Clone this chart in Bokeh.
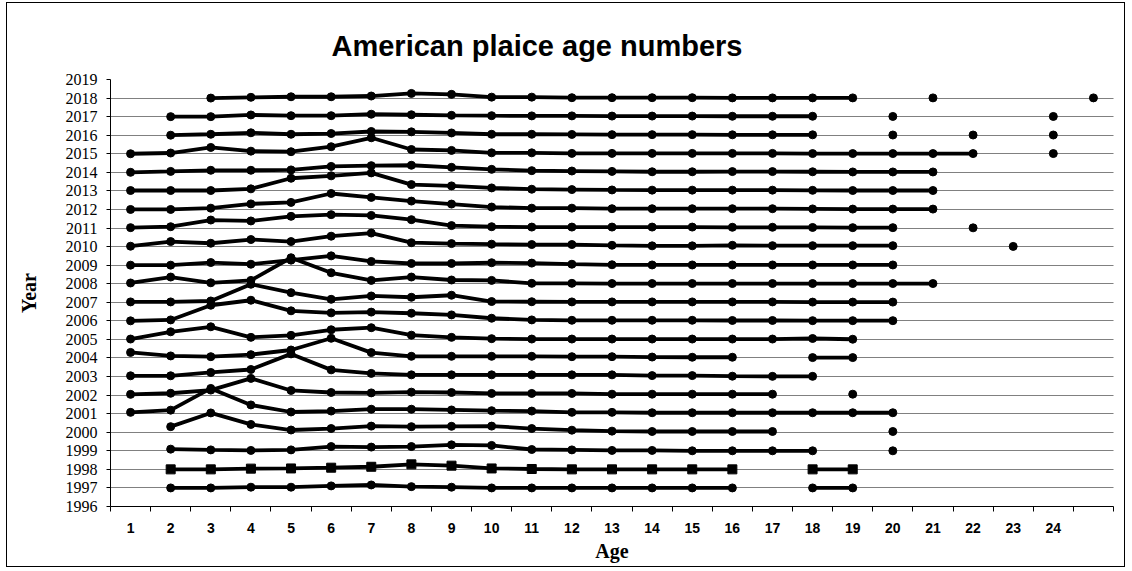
import math
from bokeh.plotting import figure
from bokeh.models import FixedTicker
from bokeh.embed import file_html
from bokeh.resources import INLINE

# ---------------- data ----------------
ages = list(range(1, 26))                      # age classes (x categories)
age_labels = [str(a) for a in range(1, 25)]    # printed x tick labels (25 has none)
years = list(range(1997, 2019))
year_ticks = list(range(1996, 2020))

n = None
# scaled age numbers per survey year (drawn as year + value), one entry per age 1..25
off_2018 = [n, n, 0.00, 0.04, 0.07, 0.07, 0.11, 0.25, 0.20, 0.05, 0.05, 0.02, 0.02, 0.02, 0.02, 0.01, 0.01, 0.01, 0.01, n, 0.01, n, n, n, 0.01]
off_2017 = [n, 0.00, 0.00, 0.09, 0.05, 0.05, 0.13, 0.10, 0.07, 0.05, 0.04, 0.04, 0.03, 0.03, 0.03, 0.02, 0.02, 0.02, n, 0.01, n, n, n, 0.01, n]
off_2016 = [n, 0.00, 0.05, 0.13, 0.05, 0.09, 0.20, 0.18, 0.12, 0.05, 0.05, 0.04, 0.03, 0.03, 0.03, 0.02, 0.02, 0.02, n, 0.01, n, 0.01, n, 0.01, n]
off_2015 = [0.00, 0.04, 0.34, 0.14, 0.11, 0.38, 0.86, 0.23, 0.18, 0.05, 0.05, 0.02, 0.02, 0.02, 0.02, 0.02, 0.02, 0.01, 0.01, 0.01, 0.01, 0.01, n, 0.01, n]
off_2014 = [0.00, 0.05, 0.11, 0.11, 0.13, 0.32, 0.36, 0.38, 0.27, 0.16, 0.09, 0.07, 0.05, 0.03, 0.03, 0.04, 0.04, 0.03, 0.02, 0.02, 0.02, n, n, n, n]
off_2013 = [0.02, 0.02, 0.02, 0.11, 0.68, 0.81, 0.97, 0.34, 0.27, 0.16, 0.09, 0.07, 0.05, 0.04, 0.04, 0.04, 0.04, 0.03, 0.02, 0.02, 0.02, n, n, n, n]
off_2012 = [0.00, 0.00, 0.07, 0.30, 0.38, 0.86, 0.65, 0.45, 0.29, 0.13, 0.07, 0.07, 0.04, 0.04, 0.04, 0.04, 0.04, 0.03, 0.02, 0.02, 0.02, n, n, n, n]
off_2011 = [0.02, 0.07, 0.43, 0.38, 0.63, 0.72, 0.68, 0.45, 0.13, 0.07, 0.05, 0.05, 0.05, 0.05, 0.05, 0.04, 0.04, 0.03, 0.02, 0.02, n, 0.01, n, n, n]
off_2010 = [0.02, 0.27, 0.18, 0.38, 0.27, 0.56, 0.73, 0.21, 0.16, 0.13, 0.11, 0.11, 0.07, 0.04, 0.04, 0.07, 0.05, 0.05, 0.05, 0.05, n, n, 0.01, n, n]
off_2009 = [0.00, 0.00, 0.14, 0.05, 0.27, 0.50, 0.20, 0.09, 0.09, 0.13, 0.11, 0.05, 0.02, 0.01, 0.01, 0.01, 0.01, 0.01, 0.01, 0.01, n, n, n, n, n]
off_2008 = [0.04, 0.36, 0.05, 0.18, 1.40, 0.59, 0.18, 0.36, 0.20, 0.18, 0.02, 0.02, 0.01, 0.01, 0.01, 0.01, 0.01, 0.01, 0.01, 0.01, 0.01, n, n, n, n]
off_2007 = [0.02, 0.02, 0.07, 0.97, 0.52, 0.16, 0.34, 0.27, 0.38, 0.04, 0.03, 0.02, 0.02, 0.02, 0.02, 0.02, 0.02, 0.01, 0.01, 0.01, n, n, n, n, n]
off_2006 = [0.00, 0.05, 0.84, 1.11, 0.54, 0.43, 0.47, 0.41, 0.32, 0.14, 0.05, 0.03, 0.03, 0.03, 0.03, 0.02, 0.02, 0.01, 0.01, 0.01, n, n, n, n, n]
off_2005 = [0.02, 0.41, 0.68, 0.11, 0.22, 0.52, 0.63, 0.23, 0.11, 0.04, 0.02, 0.02, 0.02, 0.02, 0.02, 0.02, 0.02, 0.05, 0.01, n, n, n, n, n, n]
off_2004 = [0.30, 0.11, 0.07, 0.18, 0.43, 1.06, 0.29, 0.09, 0.09, 0.09, 0.09, 0.07, 0.07, 0.05, 0.04, 0.04, n, 0.02, 0.02, n, n, n, n, n, n]
off_2003 = [0.04, 0.04, 0.22, 0.38, 1.22, 0.36, 0.17, 0.09, 0.09, 0.09, 0.09, 0.09, 0.09, 0.05, 0.05, 0.02, 0.01, 0.01, n, n, n, n, n, n, n]
off_2002 = [0.04, 0.10, 0.27, 0.90, 0.25, 0.14, 0.12, 0.16, 0.14, 0.09, 0.09, 0.09, 0.05, 0.05, 0.05, 0.05, 0.05, n, 0.05, n, n, n, n, n, n]
off_2001 = [0.07, 0.19, 1.36, 0.47, 0.09, 0.14, 0.24, 0.24, 0.20, 0.16, 0.14, 0.07, 0.07, 0.05, 0.05, 0.05, 0.05, 0.05, 0.05, 0.05, n, n, n, n, n]
off_2000 = [n, 0.30, 1.04, 0.42, 0.12, 0.20, 0.33, 0.30, 0.32, 0.33, 0.20, 0.11, 0.06, 0.04, 0.04, 0.04, 0.04, n, n, 0.04, n, n, n, n, n]
off_1999 = [n, 0.09, 0.05, 0.02, 0.05, 0.23, 0.20, 0.23, 0.32, 0.29, 0.07, 0.05, 0.02, 0.02, 0.00, 0.00, 0.00, 0.00, n, 0.00, n, n, n, n, n]
off_1998 = [n, 0.00, 0.00, 0.04, 0.05, 0.09, 0.14, 0.27, 0.20, 0.05, 0.02, 0.00, 0.00, 0.00, 0.00, 0.00, n, 0.00, 0.00, n, n, n, n, n, n]
off_1997 = [n, 0.00, 0.00, 0.04, 0.04, 0.11, 0.16, 0.07, 0.04, 0.00, 0.00, 0.00, 0.00, 0.00, 0.00, 0.00, n, 0.00, 0.00, n, n, n, n, n, n]

series = {
    1997: off_1997, 1998: off_1998, 1999: off_1999, 2000: off_2000, 2001: off_2001,
    2002: off_2002, 2003: off_2003, 2004: off_2004, 2005: off_2005, 2006: off_2006,
    2007: off_2007, 2008: off_2008, 2009: off_2009, 2010: off_2010, 2011: off_2011,
    2012: off_2012, 2013: off_2013, 2014: off_2014, 2015: off_2015, 2016: off_2016,
    2017: off_2017, 2018: off_2018,
}
square_years = [1998]

# ---------------- figure ----------------
SERIF = "Liberation Serif"
SANS = "Liberation Sans"

p = figure(width=1119, height=565,
           min_border_left=103, min_border_right=13, min_border_top=76, min_border_bottom=62,
           x_range=(ages[0] - 0.5, ages[-1] + 0.5), y_range=(year_ticks[0], year_ticks[-1]),
           output_backend="svg", toolbar_location=None,
           title="American plaice age numbers")
p.margin = (2, 0, 0, 6)
p.styles = {"border": "1px solid #000000"}
p.outline_line_color = None
p.background_fill_color = "white"
p.border_fill_color = "white"

p.title.align = "left"
p.title.offset = 221
p.title.standoff = 36
p.title.text_font = SANS
p.title.text_font_style = "bold"
p.title.text_font_size = "29px"
p.title.text_color = "black"

# x axis: labels centred on ages, tick marks between categories
p.xaxis.ticker = FixedTicker(ticks=list(range(1, len(age_labels) + 1)),
                             minor_ticks=[a - 0.5 for a in ages] + [ages[-1] + 0.5])
p.xaxis.major_tick_in = 0
p.xaxis.major_tick_out = 0
p.xaxis.minor_tick_in = 0
p.xaxis.minor_tick_out = 5
p.xaxis.minor_tick_line_color = "black"
p.xaxis.axis_line_color = "black"
p.xaxis.major_label_text_font = SANS
p.xaxis.major_label_text_font_style = "bold"
p.xaxis.major_label_text_font_size = "14px"
p.xaxis.major_label_text_color = "black"
p.xaxis.major_label_standoff = 11
p.xaxis.axis_label = "Age"
p.xaxis.axis_label_text_font = SERIF
p.xaxis.axis_label_text_font_style = "bold"
p.xaxis.axis_label_text_font_size = "20px"
p.xaxis.axis_label_text_color = "black"
p.xaxis.axis_label_standoff = 4

# y axis
p.yaxis.ticker = FixedTicker(ticks=year_ticks)
p.yaxis.major_tick_in = 0
p.yaxis.major_tick_out = 4
p.yaxis.minor_tick_line_color = None
p.yaxis.axis_line_color = "black"
p.yaxis.major_tick_line_color = "black"
p.yaxis.major_label_text_font = SERIF
p.yaxis.major_label_text_font_size = "16px"
p.yaxis.major_label_text_color = "black"
p.yaxis.major_label_standoff = 9
p.yaxis.axis_label = "Year"
p.yaxis.axis_label_text_font = SERIF
p.yaxis.axis_label_text_font_style = "bold"
p.yaxis.axis_label_text_font_size = "20px"
p.yaxis.axis_label_text_color = "black"
p.yaxis.axis_label_standoff = 23

p.xgrid.visible = False
p.ygrid.ticker = FixedTicker(ticks=year_ticks)
p.ygrid.grid_line_color = "black"
p.ygrid.grid_line_dash = "1 1"
p.ygrid.grid_line_width = 1
p.ygrid.grid_line_alpha = 1.0

# ---------------- series ----------------
for yr in years:
    vals = series[yr]
    ys = [yr + v if v is not None else math.nan for v in vals]
    p.line(ages, ys, line_color="black", line_width=3.8)
    px = [a for a, v in zip(ages, vals) if v is not None]
    py = [yr + v for v in vals if v is not None]
    marker = "square" if yr in square_years else "circle"
    size = 9 if yr in square_years else 8
    p.scatter(px, py, marker=marker, size=size, fill_color="black", line_color="black")

open("out.html", "w").write(file_html(p, INLINE))
